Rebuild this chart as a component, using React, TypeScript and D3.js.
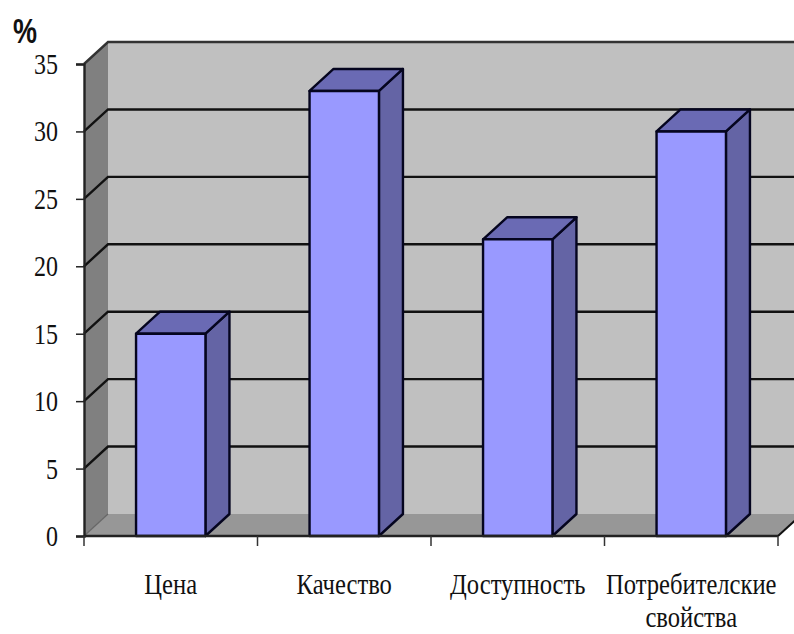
import { useEffect, useRef } from "react"
import * as d3 from "d3"

const categories = ["Цена", "Качество", "Доступность", "Потребителские|свойства"]
const values = [15, 33, 22, 30]
const yTicks = [0, 5, 10, 15, 20, 25, 30, 35]

const width = 794
const height = 634
const margin = { top: 64, right: 16, bottom: 98, left: 84 }
const depth = { x: 24, y: -22 }

export default function App() {
  const svgRef = useRef<SVGSVGElement>(null)

  useEffect(() => {
    if (!svgRef.current) return

    const svg = d3.select(svgRef.current)
    svg.selectAll("*").remove()

    const y0 = height - margin.bottom
    const x1 = width - margin.right

    const xScale = d3
      .scaleBand()
      .domain(categories)
      .range([margin.left, x1])
      .paddingInner(0.6)
      .paddingOuter(0.3)
    const yScale = d3.scaleLinear().domain([0, 35]).range([y0, margin.top])

    const line = d3.line()
    const pts = (p: [number, number][]) => line(p) + "Z"

    const y35 = yScale(35)
    const backLeft = margin.left + depth.x

    // Back wall, side wall, floor
    svg.append("rect")
      .attr("x", backLeft)
      .attr("y", y35 + depth.y)
      .attr("width", width - backLeft)
      .attr("height", y0 - y35)
      .attr("fill", "#c0c0c0")
    svg.append("path")
      .attr("d", pts([
        [margin.left, y35],
        [backLeft, y35 + depth.y],
        [backLeft, y0 + depth.y],
        [margin.left, y0],
      ]))
      .attr("fill", "#808080")
    svg.append("path")
      .attr("d", pts([
        [margin.left, y0],
        [backLeft, y0 + depth.y],
        [x1 + depth.x, y0 + depth.y],
        [x1, y0],
      ]))
      .attr("fill", "#979797")

    // Gridlines run across the side wall, then the back wall
    svg.selectAll(".grid")
      .data(yTicks.slice(1))
      .enter()
      .append("path")
      .attr("class", "grid")
      .attr("d", (d) =>
        line([
          [margin.left, yScale(d)],
          [backLeft, yScale(d) + depth.y],
          [width, yScale(d) + depth.y],
        ]),
      )
      .attr("fill", "none")
      .attr("stroke", (d) => (d === 35 ? "#333" : "#111"))
      .attr("stroke-width", 2.4)

    // Floor edges
    svg.append("path")
      .attr("d", line([[margin.left, y0], [backLeft, y0 + depth.y]]))
      .attr("stroke", "#666")
      .attr("stroke-width", 1.2)
    svg.append("path")
      .attr("d", line([[x1, y0], [x1 + depth.x, y0 + depth.y]]))
      .attr("stroke", "#111")
      .attr("stroke-width", 2)

    // Bars
    const data = categories.map((c, i) => ({ c, v: values[i] }))
    const bars = svg.selectAll(".bar").data(data).enter().append("g").attr("class", "bar")
    const w = xScale.bandwidth()

    bars.append("path")
      .attr("d", (d) => {
        const x = xScale(d.c) || 0
        return pts([
          [x + w, y0],
          [x + w + depth.x, y0 + depth.y],
          [x + w + depth.x, yScale(d.v) + depth.y],
          [x + w, yScale(d.v)],
        ])
      })
      .attr("fill", "#6464a5")
    bars.append("path")
      .attr("d", (d) => {
        const x = xScale(d.c) || 0
        return pts([
          [x, yScale(d.v)],
          [x + depth.x, yScale(d.v) + depth.y],
          [x + w + depth.x, yScale(d.v) + depth.y],
          [x + w, yScale(d.v)],
        ])
      })
      .attr("fill", "#6a6ab4")
    bars.append("rect")
      .attr("x", (d) => xScale(d.c) || 0)
      .attr("y", (d) => yScale(d.v))
      .attr("width", w)
      .attr("height", (d) => y0 - yScale(d.v))
      .attr("fill", "#9999ff")
    bars.selectAll("*")
      .attr("stroke", "#05051f")
      .attr("stroke-width", 2.4)
      .attr("stroke-linejoin", "round")

    // Y axis
    const yAxis = svg.append("g")
      .attr("transform", `translate(${margin.left}, 0)`)
      .call(d3.axisLeft(yScale).tickValues(yTicks).tickSize(8).tickPadding(0))
    yAxis.select(".domain").attr("stroke", "#222").attr("stroke-width", 2.4)
    yAxis.selectAll(".tick line").attr("stroke", "#222").attr("stroke-width", 1.5)
    yAxis.selectAll(".tick text").remove()

    // The source picture is stretched vertically, so the text is too
    svg.selectAll(".y-label")
      .data(yTicks)
      .enter()
      .append("text")
      .attr("class", "y-label")
      .attr("text-anchor", "end")
      .attr("transform", (d) => `translate(58, ${yScale(d) + 10}) scale(1, 1.24)`)
      .attr("font-family", "Liberation Serif")
      .attr("font-size", "24px")
      .attr("fill", "#111")
      .text((d) => d)

    // X axis
    const xTicks = d3.range(categories.length + 1).map((i) => margin.left + i * xScale.step())
    svg.append("path")
      .attr("d", line([[margin.left, y0], [x1, y0]]))
      .attr("stroke", "#222")
      .attr("stroke-width", 2.4)
    svg.selectAll(".x-tick")
      .data(xTicks)
      .enter()
      .append("line")
      .attr("class", "x-tick")
      .attr("x1", (d) => d)
      .attr("x2", (d) => d)
      .attr("y1", y0)
      .attr("y2", y0 + 10)
      .attr("stroke", "#333")
      .attr("stroke-width", 1.5)

    const xLabels = svg.selectAll(".x-label")
      .data(categories)
      .enter()
      .append("text")
      .attr("class", "x-label")
      .attr("text-anchor", "middle")
      .attr("font-family", "Liberation Serif")
      .attr("font-size", "24.6px")
      .attr("fill", "#111")
      .attr("transform", "translate(0, 594) scale(1, 1.2)")
    xLabels.each(function (d) {
      const cx = (xScale(d) || 0) + w / 2
      d.split("|").forEach((part, i) => {
        d3.select(this)
          .append("tspan")
          .attr("x", cx)
          .attr("y", i * 27.5)
          .text(part)
      })
    })

    svg.append("text")
      .attr("transform", "translate(13, 43) scale(1, 1.3)")
      .attr("font-family", "Liberation Sans")
      .attr("font-weight", "bold")
      .attr("font-size", "27px")
      .attr("fill", "#111")
      .text("%")
  }, [])

  return (
    <svg
      ref={svgRef}
      width={width}
      height={height}
      style={{ position: "absolute", left: 0, top: 0, background: "#fff" }}
    />
  )
}
